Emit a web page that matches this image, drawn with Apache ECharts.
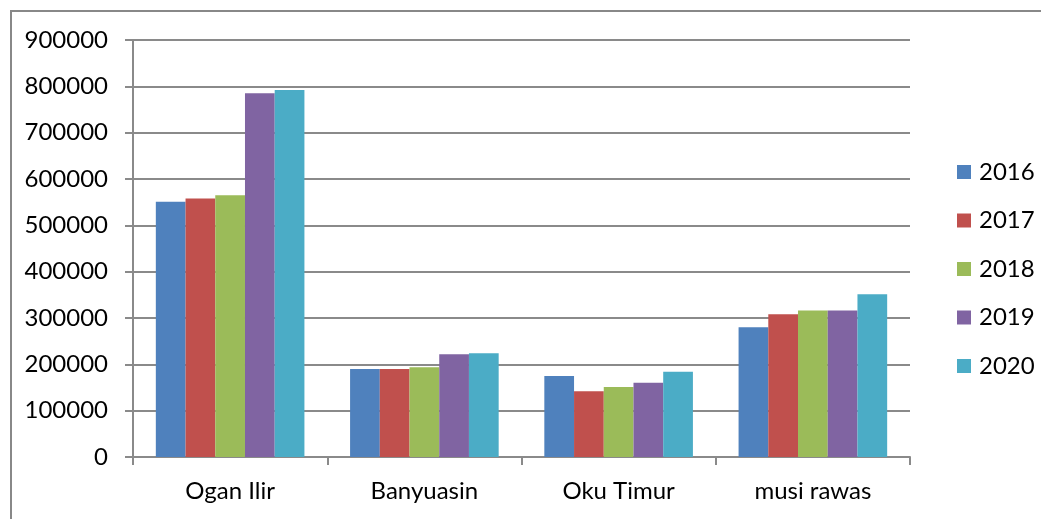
<!DOCTYPE html>
<html>
<head>
<meta charset="utf-8">
<script src="https://cdn.jsdelivr.net/npm/echarts@6/dist/echarts.min.js"></script>
<style>
    html, body { margin: 0; padding: 0; background: #fff; }
    #frame {
        position: absolute; left: 10px; top: 10px; width: 1100px; height: 600px;
        border-top: 2px solid #888; border-left: 2px solid #888;
    }
    #chart { position: absolute; left: 0; top: 0; width: 1041px; height: 519px; }
</style>
</head>
<body>
<div id="frame"></div>
<div id="chart"></div>
<script>
// kabupaten dan tahun
const categories = ['Ogan Ilir', 'Banyuasin', 'Oku Timur', 'musi rawas'];
const years = ['2016', '2017', '2018', '2019', '2020'];
const colors = ['#4F81BD', '#C0504D', '#9BBB59', '#8064A2', '#4BACC6'];

// nilai per tahun (urut sesuai kategori)
const values2016 = [551000, 190000, 175000, 280000];
const values2017 = [558000, 190000, 142000, 308000];
const values2018 = [565000, 193500, 151000, 316000];
const values2019 = [785000, 222000, 160000, 316000];
const values2020 = [792000, 224000, 184000, 351000];
const seriesValues = [values2016, values2017, values2018, values2019, values2020];

const yTicks = { min: 0, max: 900000, interval: 100000 };

const font = 'Lato, "Noto Sans", sans-serif';
const chart = echarts.init(document.getElementById('chart'));

chart.setOption({
    animation: false,
    grid: { left: 133, right: 131, top: 40, bottom: 62, containLabel: false },
    legend: {
        orient: 'vertical',
        left: 952,
        top: 155,
        itemWidth: 14,
        itemHeight: 14,
        itemGap: 24.5,
        icon: 'rect',
        textStyle: { fontFamily: font, fontSize: 24, color: '#000', padding: [0, 0, 0, 3] },
        data: years
    },
    xAxis: {
        type: 'category',
        data: categories,
        axisLine: { lineStyle: { color: '#8a8a8a', width: 2 } },
        axisTick: { show: true, length: 8, interval: 0, lineStyle: { color: '#8a8a8a', width: 2 } },
        axisLabel: { fontFamily: font, fontSize: 24, color: '#000', margin: 22 }
    },
    yAxis: {
        type: 'value',
        min: yTicks.min,
        max: yTicks.max,
        interval: yTicks.interval,
        axisLine: { show: true, lineStyle: { color: '#8a8a8a', width: 2 } },
        axisTick: { show: true, length: 8, lineStyle: { color: '#8a8a8a', width: 2 } },
        splitLine: { lineStyle: { color: '#8a8a8a', width: 2 } },
        axisLabel: { fontFamily: font, fontSize: 24, color: '#000', margin: 25, formatter: v => String(v) }
    },
    series: years.map((y, i) => ({
        name: y,
        type: 'bar',
        data: seriesValues[i],
        barGap: '0%',
        barCategoryGap: '23.5%',
        itemStyle: { color: colors[i] }
    }))
});
</script>
</body>
</html>
